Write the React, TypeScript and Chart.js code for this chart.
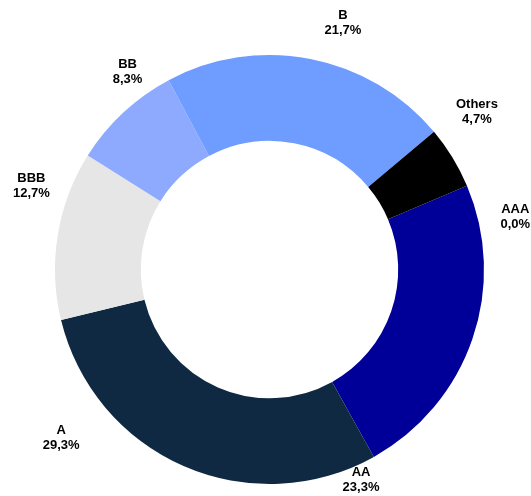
import React, { useEffect, useRef } from "react";
import { Chart, registerables } from "chart.js";

Chart.register(...registerables);

const categories = ["AAA", "AA", "A", "BBB", "BB", "B", "Others"];
const shares = [0.0, 23.3, 29.3, 12.7, 8.3, 21.7, 4.7];
const percentLabels = ["0,0%", "23,3%", "29,3%", "12,7%", "8,3%", "21,7%", "4,7%"];
const sliceColors = ["#7f7f7f", "#000099", "#0f2942", "#e6e6e6", "#8eaaff", "#6f9cff", "#000000"];

// label anchor: angle (deg, clockwise from top) and distance as a multiple of outer radius
const labelAngles = [77.9, 156.5, -129.0, -70.6, -35.7, 16.6, 52.8];
const labelDistances = [1.172, 1.07, 1.25, 1.177, 1.134, 1.198, 1.214];

const labelPlugin = {
  id: "outsideLabels",
  afterDatasetsDraw(chart: any) {
    const meta = chart.getDatasetMeta(0);
    const arc = meta.data[0];
    if (!arc) return;
    const cx = arc.x;
    const cy = arc.y;
    const R = arc.outerRadius;
    const ctx = chart.ctx;
    ctx.save();
    ctx.fillStyle = "#000000";
    ctx.font = "bold 13px 'Liberation Sans', Arial, sans-serif";
    ctx.textAlign = "center";
    ctx.textBaseline = "middle";
    categories.forEach((name, i) => {
      const a = (labelAngles[i] * Math.PI) / 180;
      const d = labelDistances[i] * R;
      const x = cx + d * Math.sin(a);
      const y = cy - d * Math.cos(a);
      ctx.fillText(name, x, y - 7.5);
      ctx.fillText(percentLabels[i], x, y + 7.5);
    });
    ctx.restore();
  },
};

export default function App() {
  const canvasRef = useRef<HTMLCanvasElement | null>(null);

  useEffect(() => {
    if (!canvasRef.current) return;
    const chart = new Chart(canvasRef.current, {
      type: "doughnut",
      data: {
        labels: categories,
        datasets: [
          {
            data: shares,
            backgroundColor: sliceColors,
            borderWidth: 0,
          },
        ],
      },
      options: {
        animation: false,
        responsive: true,
        maintainAspectRatio: false,
        rotation: 67,
        cutout: "60%",
        layout: { padding: { left: 55, right: 47, top: 55, bottom: 12 } },
        plugins: {
          legend: { display: false },
          tooltip: { enabled: false },
        },
      },
      plugins: [labelPlugin],
    });
    return () => chart.destroy();
  }, []);

  return (
    <div style={{ position: "absolute", left: 0, top: 0, width: 531, height: 496, background: "#ffffff" }}>
      <canvas ref={canvasRef} />
    </div>
  );
}
